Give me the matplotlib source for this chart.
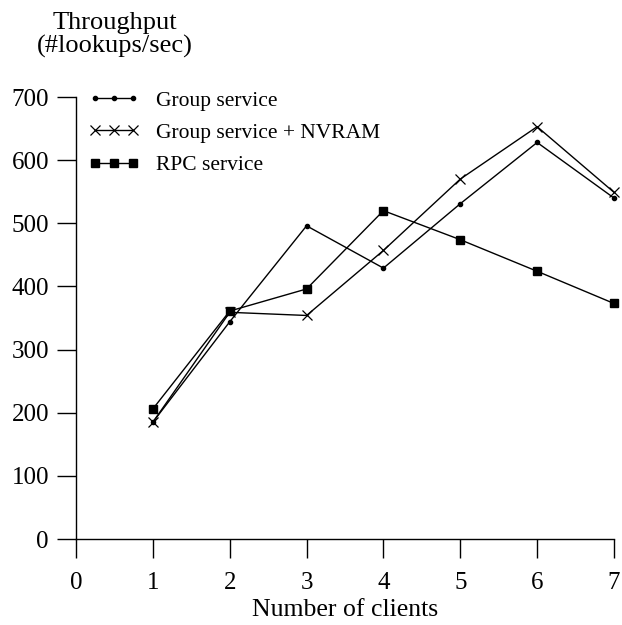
import matplotlib
matplotlib.use('Agg')
import matplotlib.pyplot as plt

plt.rcParams['font.family'] = ['Liberation Serif', 'DejaVu Serif']

# data
clients = [1, 2, 3, 4, 5, 6, 7]
group = [185, 344, 496, 429, 531, 628, 540]
group_nvram = [185, 359, 354, 457, 570, 653, 549]
rpc = [206, 361, 396, 520, 474, 424, 373]

fig = plt.figure(figsize=(6.22, 6.25), dpi=100)
ax = fig.add_axes([76/622, 1 - 539/625, (614 - 76)/622, (539 - 97)/625])

ax.plot(clients, group, color='black', lw=1, marker='o', ms=3,
        label='Group service', clip_on=False)
ax.plot(clients, group_nvram, color='black', lw=1, marker='x', ms=7.5, mew=0.9,
        label='Group service + NVRAM', clip_on=False)
ax.plot(clients, rpc, color='black', lw=1, marker='s', ms=6,
        label='RPC service', clip_on=False)

ax.set_xlim(0, 7)
ax.set_ylim(0, 700)
ax.set_xticks(range(0, 8))
ax.set_yticks(range(0, 701, 100))
for pos in ['top', 'right']:
    ax.spines[pos].set_visible(False)
ax.spines['left'].set_linewidth(1)
ax.spines['bottom'].set_linewidth(1)
ax.tick_params(axis='both', direction='out', length=13.5, width=1,
               labelsize=18)
ax.tick_params(axis='y', pad=6)
ax.tick_params(axis='x', pad=10)

ax.set_xlabel('Number of clients', fontsize=18.5, labelpad=3.5)
fig.text(115/622, 1 - 12/625, 'Throughput\n(#lookups/sec)', ha='center', va='top',
         fontsize=19, linespacing=1.05)

ax.legend(loc='upper left', bbox_to_anchor=(-0.0136, 1.058), frameon=False,
          numpoints=3, handlelength=2.4, handletextpad=0.75,
          labelspacing=0.56, fontsize=15.5)

plt.savefig('out.png', dpi=100)
